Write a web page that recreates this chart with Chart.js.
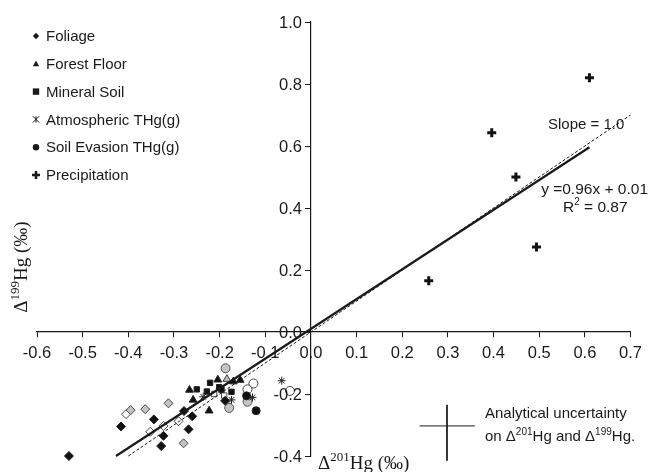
<!DOCTYPE html>
<html>
<head>
<meta charset="utf-8">
<script src="https://cdn.jsdelivr.net/npm/chart.js@4"></script>
<style>
  html, body { margin: 0; padding: 0; background: #fff; }
  #wrap { width: 649px; height: 472px; }
</style>
</head>
<body>
<div id="wrap"><canvas id="myChart" width="649" height="472"></canvas></div>
<script>
// data  [d201Hg, d199Hg]
const foliageBlack = [[-0.53, -0.40], [-0.416, -0.305], [-0.344, -0.282], [-0.278, -0.255], [-0.26, -0.272],
  [-0.268, -0.314], [-0.323, -0.335], [-0.328, -0.368], [-0.188, -0.222]];
const foliageGrey = [[-0.395, -0.252], [-0.363, -0.249], [-0.312, -0.23], [-0.279, -0.359]];
const foliageOpen = [[-0.405, -0.265], [-0.352, -0.322], [-0.323, -0.303], [-0.29, -0.288]];
const forestFloor = [[-0.266, -0.187], [-0.258, -0.219], [-0.223, -0.254], [-0.204, -0.154], [-0.155, -0.155], [-0.17, -0.16]];
const forestFloorGrey = [[-0.184, -0.152]];
const mineralSoil = [[-0.25, -0.185], [-0.221, -0.164], [-0.228, -0.192], [-0.201, -0.178], [-0.174, -0.193], [-0.196, -0.186]];
const mineralSoilOpen = [[-0.212, -0.2], [-0.19, -0.205]];
const atmospheric = [[-0.064, -0.157], [-0.128, -0.211], [-0.174, -0.219], [-0.236, -0.209]];
const evasionBlack = [[-0.141, -0.206], [-0.12, -0.254]];
const evasionGrey = [[-0.187, -0.117], [-0.179, -0.245], [-0.139, -0.225]];
const evasionOpen = [[-0.126, -0.166], [-0.139, -0.185], [-0.046, -0.19]];
const precipitation = [[0.258, 0.165], [0.396, 0.643], [0.449, 0.50], [0.494, 0.274], [0.61, 0.82]];

// regression (y = 0.96x + 0.01) and 1:1 line end points
const fitLine = [[-0.427, -0.40], [0.61, 0.596]];
const slopeOne = [[-0.40, -0.40], [0.70, 0.70]];
// analytical uncertainty cross
const errX = [[0.238, -0.303], [0.359, -0.303]];
const errY = [[0.298, -0.235], [0.298, -0.415]];

const xTicks = [-0.6, -0.5, -0.4, -0.3, -0.2, -0.1, 0.0, 0.1, 0.2, 0.3, 0.4, 0.5, 0.6, 0.7];
const yTicks = [-0.4, -0.2, 0.0, 0.2, 0.4, 0.6, 0.8, 1.0];

const legendItems = [
  { label: "Foliage", style: "rectRot" },
  { label: "Forest Floor", style: "triangle" },
  { label: "Mineral Soil", style: "rect" },
  { label: "Atmospheric THg(g)", style: "star" },
  { label: "Soil Evasion THg(g)", style: "circle" },
  { label: "Precipitation", style: "cross" },
];

const SANS = "'Liberation Sans', Arial, Helvetica, sans-serif";
const SERIF = "'Liberation Serif', 'Times New Roman', serif";
const INK = "#1a1a1a";
const TICK_FONT = 16.5;

const xy = (arr) => arr.map((p) => ({ x: p[0], y: p[1] }));
const fmt = (v) => (Math.abs(v) < 1e-9 ? "0.0" : Number(v).toFixed(1));

function pts(arr, style, fill, radius, border) {
  return {
    type: "scatter",
    data: xy(arr),
    pointStyle: style,
    pointRadius: radius,
    pointHoverRadius: radius,
    backgroundColor: fill,
    borderColor: border || "#222",
    borderWidth: 1,
    clip: false,
  };
}

function seg(arr, width, dash) {
  return {
    type: "line",
    data: xy(arr),
    borderColor: INK,
    borderWidth: width,
    borderDash: dash || [],
    pointRadius: 0,
    tension: 0,
    fill: false,
    clip: false,
  };
}

function drawMarker(ctx, style, x, y, r) {
  ctx.save();
  ctx.fillStyle = INK;
  ctx.strokeStyle = INK;
  ctx.beginPath();
  if (style === "rectRot") {
    ctx.moveTo(x, y - r); ctx.lineTo(x + r, y); ctx.lineTo(x, y + r); ctx.lineTo(x - r, y); ctx.closePath(); ctx.fill();
  } else if (style === "triangle") {
    ctx.moveTo(x, y - r); ctx.lineTo(x + r, y + r * 0.8); ctx.lineTo(x - r, y + r * 0.8); ctx.closePath(); ctx.fill();
  } else if (style === "rect") {
    ctx.rect(x - r, y - r, 2 * r, 2 * r); ctx.fill();
  } else if (style === "circle") {
    ctx.arc(x, y, r, 0, Math.PI * 2); ctx.fill();
  } else if (style === "star") {
    ctx.lineWidth = 1;
    ctx.moveTo(x - r, y - r); ctx.lineTo(x + r, y + r);
    ctx.moveTo(x - r, y + r); ctx.lineTo(x + r, y - r);
    ctx.moveTo(x, y - r); ctx.lineTo(x, y + r);
    ctx.stroke();
  } else if (style === "cross") {
    ctx.lineWidth = 2.6;
    ctx.moveTo(x - r, y); ctx.lineTo(x + r, y);
    ctx.moveTo(x, y - r); ctx.lineTo(x, y + r);
    ctx.stroke();
  }
  ctx.restore();
}

// text with superscripts: parts = [[text, isSup], ...]
function richWidth(ctx, parts, size, family) {
  let w = 0;
  parts.forEach((p) => {
    ctx.font = (p[1] ? Math.round(size * 0.66) : size) + "px " + family;
    w += ctx.measureText(p[0]).width;
  });
  return w;
}
function drawRich(ctx, parts, x, y, size, family, align) {
  const w = richWidth(ctx, parts, size, family);
  let cx = align === "right" ? x - w : align === "center" ? x - w / 2 : x;
  ctx.textAlign = "left";
  ctx.textBaseline = "alphabetic";
  parts.forEach((p) => {
    const s = p[1] ? Math.round(size * 0.66) : size;
    ctx.font = s + "px " + family;
    ctx.fillText(p[0], cx, p[1] ? y - size * 0.42 : y);
    cx += ctx.measureText(p[0]).width;
  });
}

const decor = {
  id: "decor",
  afterDraw(chart) {
    const ctx = chart.ctx;
    const sx = chart.scales.x;
    const sy = chart.scales.y;
    const x0 = sx.getPixelForValue(0);
    ctx.save();
    ctx.fillStyle = INK;
    ctx.strokeStyle = INK;

    // y ticks: marks to the left of the axis, labels left of them
    ctx.lineWidth = 1;
    ctx.font = TICK_FONT + "px " + SANS;
    ctx.textAlign = "right";
    ctx.textBaseline = "middle";
    yTicks.forEach((v) => {
      const py = Math.round(sy.getPixelForValue(v)) + 0.5;
      ctx.beginPath();
      ctx.moveTo(x0 - 6, py);
      ctx.lineTo(x0, py);
      ctx.stroke();
      ctx.fillText(fmt(v), x0 - 9, py + 1);
    });

    // legend
    legendItems.forEach((it, i) => {
      const ly = 36 + i * 27.8;
      drawMarker(ctx, it.style, 36, ly, it.style === "cross" ? 4 : 3.2);
      ctx.font = "15px " + SANS;
      ctx.textAlign = "left";
      ctx.textBaseline = "middle";
      ctx.fillStyle = INK;
      ctx.fillText(it.label, 46, ly + 1);
    });

    // axis titles
    drawRich(ctx, [["\u0394", false], ["201", true], ["Hg (\u2030)", false]], 318, 469, 19, SERIF, "left");
    ctx.save();
    ctx.translate(27, 267);
    ctx.rotate(-Math.PI / 2);
    drawRich(ctx, [["\u0394", false], ["199", true], ["Hg (\u2030)", false]], 0, 0, 19, SERIF, "center");
    ctx.restore();

    // annotations
    drawRich(ctx, [["Slope = 1.0", false]], 548, 129, 15, SANS, "left");
    drawRich(ctx, [["y =0.96x + 0.01", false]], 648, 194, 15.5, SANS, "right");
    drawRich(ctx, [["R", false], ["2", true], [" = 0.87", false]], 563, 212, 15.5, SANS, "left");
    drawRich(ctx, [["Analytical uncertainty", false]], 485, 418, 15, SANS, "left");
    drawRich(ctx, [["on \u0394", false], ["201", true], ["Hg and \u0394", false], ["199", true], ["Hg.", false]], 485, 441, 15, SANS, "left");
    ctx.restore();
  },
};

const ctx = document.getElementById("myChart").getContext("2d");
const myChart = new Chart(ctx, {
  data: {
    datasets: [
      seg(slopeOne, 1, [3, 2]),
      seg(fitLine, 2.2),
      seg(errX, 1),
      seg(errY, 1),
      pts(foliageBlack, "rectRot", "#111", 4.5),
      pts(foliageGrey, "rectRot", "#c4c4c4", 4.5, "#444"),
      pts(foliageOpen, "rectRot", "#fff", 4.5, "#444"),
      pts(forestFloor, "triangle", "#111", 4.5),
      pts(forestFloorGrey, "triangle", "#bdbdbd", 4.5, "#444"),
      pts(mineralSoil, "rect", "#111", 3.8),
      pts(mineralSoilOpen, "rect", "#fff", 3.8, "#444"),
      pts(atmospheric, "star", "#222", 4),
      pts(evasionBlack, "circle", "#111", 4),
      pts(evasionGrey, "circle", "#c4c4c4", 4.5, "#555"),
      pts(evasionOpen, "circle", "#fff", 4.5, "#444"),
      Object.assign(pts(precipitation, "cross", "#111", 4.5, "#111"), { borderWidth: 3 }),
    ],
  },
  options: {
    responsive: false,
    animation: false,
    layout: { padding: { left: 37, right: 18, top: 22, bottom: 16 } },
    plugins: { legend: { display: false }, tooltip: { enabled: false } },
    scales: {
      x: {
        type: "linear",
        position: { y: 0 },
        min: -0.6,
        max: 0.7,
        afterBuildTicks: (s) => { s.ticks = xTicks.map((v) => ({ value: v })); },
        ticks: {
          color: INK,
          font: { family: SANS, size: TICK_FONT },
          padding: 7,
          maxRotation: 0,
          autoSkip: false,
          callback: (v) => fmt(v),
        },
        grid: { drawOnChartArea: false, drawTicks: true, tickLength: 5, color: INK },
        border: { color: INK, width: 1.2 },
      },
      y: {
        type: "linear",
        position: { x: 0 },
        min: -0.4,
        max: 1.0,
        afterBuildTicks: (s) => { s.ticks = yTicks.map((v) => ({ value: v })); },
        ticks: { display: false },
        grid: { drawOnChartArea: false, drawTicks: false },
        border: { color: INK, width: 1.2 },
      },
    },
  },
  plugins: [decor],
});
</script>
</body>
</html>
